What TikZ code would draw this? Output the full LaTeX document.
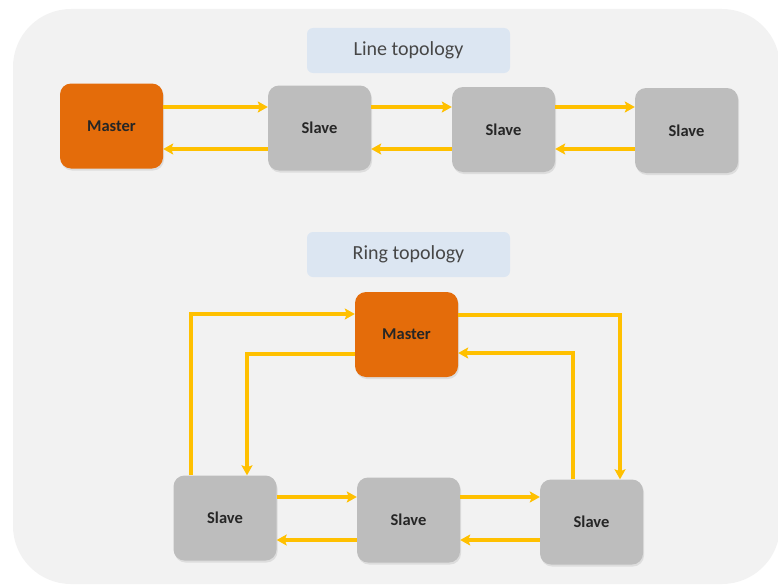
\documentclass[tikz,border=0pt]{standalone}
\usepackage{fontspec}
\setmainfont{Carlito}
\usetikzlibrary{arrows.meta,shadows}

\definecolor{panel}{HTML}{F2F2F2}
\definecolor{labelfill}{HTML}{DCE6F2}
\definecolor{masterfill}{HTML}{E46C0A}
\definecolor{slavefill}{HTML}{BDBDBD}
\definecolor{link}{HTML}{FFC000}
\definecolor{ink}{HTML}{262626}

\tikzset{
  box/.style={rounded corners=11pt, minimum width=103pt, minimum height=85pt,
    inner sep=0pt, font=\fontsize{16.5}{19}\selectfont\bfseries, text=ink,
    drop shadow={opacity=0.18, shadow xshift=1pt, shadow yshift=-2pt}},
  masterbox/.style={box, fill=masterfill},
  slavebox/.style={box, fill=slavefill},
  title/.style={rounded corners=6pt, fill=labelfill, minimum width=203pt,
    minimum height=45pt, inner sep=0pt, font=\fontsize{20}{23}\selectfont,
    text=black!72},
  wire/.style={draw=link, line width=3.6pt,
    -{Stealth[length=10pt, width=11pt, inset=2pt]}},
}

\begin{document}
\begin{tikzpicture}[x=1pt, y=-1pt]
\useasboundingbox (0,0) rectangle (778,586);
\fill[panel, rounded corners=58pt] (13,9) rectangle (780,584);

% line topology
\node[title] (lt) at (408.5,50.5) {Line topology};
\node[masterbox] (m1) at (111.5,126) {Master};
\node[slavebox]  (s1) at (319.5,128) {Slave};
\node[slavebox]  (s2) at (503.5,129.5) {Slave};
\node[slavebox]  (s3) at (686.5,130.5) {Slave};

\draw[wire] (m1.east |- 0,107) -- (s1.west |- 0,107);
\draw[wire] (s1.east |- 0,107) -- (s2.west |- 0,107);
\draw[wire] (s2.east |- 0,107) -- (s3.west |- 0,107);
\draw[wire] (s1.west |- 0,149) -- (m1.east |- 0,149);
\draw[wire] (s2.west |- 0,149) -- (s1.east |- 0,149);
\draw[wire] (s3.west |- 0,149) -- (s2.east |- 0,149);

% ring topology
\node[title] (rt) at (408.5,254.5) {Ring topology};
\node[masterbox] (m2) at (406.5,334.5) {Master};
\node[slavebox]  (r1) at (225,518) {Slave};
\node[slavebox]  (r2) at (408.5,520) {Slave};
\node[slavebox]  (r3) at (591.5,522) {Slave};

\draw[wire] (r1.east |- 0,497) -- (r2.west |- 0,497);
\draw[wire] (r2.east |- 0,497) -- (r3.west |- 0,497);
\draw[wire] (r2.west |- 0,540) -- (r1.east |- 0,540);
\draw[wire] (r3.west |- 0,540) -- (r2.east |- 0,540);

\draw[wire] (r1.north -| 191,0) |- (m2.west |- 0,314);
\draw[wire] (m2.west |- 0,354) -| (r1.north -| 247,0);
\draw[wire] (m2.east |- 0,315) -| (r3.north -| 620,0);
\draw[wire] (r3.north -| 573,0) |- (m2.east |- 0,353);
\end{tikzpicture}
\end{document}
